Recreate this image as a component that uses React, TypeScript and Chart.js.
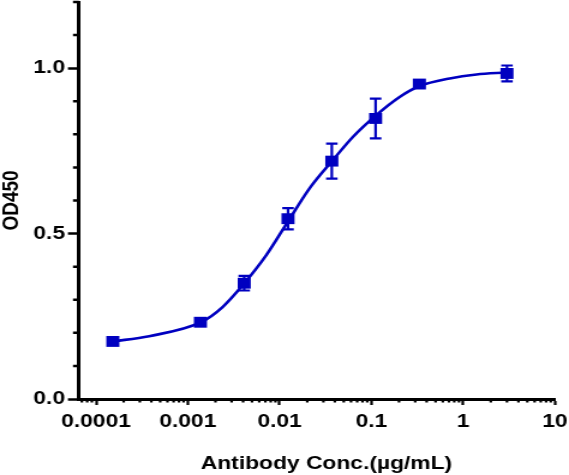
import React, { useEffect, useRef } from "react";
import { Chart, registerables } from "chart.js";

Chart.register(...registerables);

// ---- data: measured points ----
const concentrations = [0.0001524, 0.001372, 0.004115, 0.01235, 0.03704, 0.1111, 0.3333, 3];
const od450 = [0.174, 0.232, 0.35, 0.545, 0.719, 0.848, 0.952, 0.984];
const od450Err = [0, 0, 0.022, 0.032, 0.053, 0.06, 0.008, 0.024];

// ---- data: fitted curve ----
const fitConc = [
  0.0001507, 0.000379, 0.00139, 0.00239, 0.00413, 0.00713, 0.01256, 0.0211, 0.038, 0.0628,
  0.113, 0.203, 0.336, 0.714, 1.397, 2.97,
];
const fitOd = [
  0.174, 0.19, 0.232, 0.278, 0.35, 0.434, 0.54, 0.636, 0.722, 0.792, 0.858, 0.913, 0.946, 0.969,
  0.981, 0.987,
];

const xMajorTicks = [0.0001, 0.001, 0.01, 0.1, 1, 10];
const xTickLabels = ["0.0001", "0.001", "0.01", "0.1", "1", "10"];
const xMinorMultipliers = [2, 3, 4, 5, 6, 7, 8, 9];
const xMinorDecades = [0.00001, 0.0001, 0.001, 0.01, 0.1, 1];

const yMajorTicks = [0, 0.5, 1.0];
const yTickLabels = ["0.0", "0.5", "1.0"];
const yMinorTicks = [0.1, 0.2, 0.3, 0.4, 0.6, 0.7, 0.8, 0.9, 1.1, 1.2];

const xTitle = "   Antibody Conc.(µg/mL)";
const yTitle = "OD450";

// ---- styles ----
const BLUE = "#0000C0";
const FONT = "'Liberation Sans', Arial, Helvetica, sans-serif";
const INNER_W = 474;
const H = 475;
const OUTER_W = 569;

const errorBarPlugin = {
  id: "errorBars",
  afterDatasetsDraw(chart: any) {
    const { ctx } = chart;
    const x = chart.scales.x;
    const y = chart.scales.y;
    const cap = 4.8;
    ctx.save();
    ctx.strokeStyle = BLUE;
    ctx.lineWidth = 2.2;
    concentrations.forEach((c, i) => {
      const e = od450Err[i];
      if (!e) return;
      const px = x.getPixelForValue(c);
      const top = y.getPixelForValue(od450[i] + e);
      const bot = y.getPixelForValue(od450[i] - e);
      ctx.beginPath();
      ctx.moveTo(px, top);
      ctx.lineTo(px, bot);
      ctx.moveTo(px - cap, top);
      ctx.lineTo(px + cap, top);
      ctx.moveTo(px - cap, bot);
      ctx.lineTo(px + cap, bot);
      ctx.stroke();
    });
    ctx.restore();
  },
};

const minorTickPlugin = {
  id: "minorTicks",
  afterDraw(chart: any) {
    const { ctx, chartArea } = chart;
    const x = chart.scales.x;
    const y = chart.scales.y;
    ctx.save();
    ctx.strokeStyle = "#000";
    ctx.lineWidth = 2.2;
    ctx.beginPath();
    xMinorDecades.forEach((d) => {
      xMinorMultipliers.forEach((m) => {
        const v = m * d;
        if (v < x.min || v > x.max) return;
        const px = x.getPixelForValue(v);
        ctx.moveTo(px, chartArea.bottom);
        ctx.lineTo(px, chartArea.bottom + 3.5);
      });
    });
    ctx.stroke();
    ctx.lineWidth = 2.5;
    ctx.beginPath();
    yMinorTicks.forEach((v) => {
      const py = y.getPixelForValue(v);
      ctx.moveTo(chartArea.left, py);
      ctx.lineTo(chartArea.left - 5, py);
    });
    ctx.stroke();
    ctx.restore();
  },
};

export default function App() {
  const ref = useRef<HTMLCanvasElement | null>(null);

  useEffect(() => {
    if (!ref.current) return;
    const chart = new Chart(ref.current, {
      type: "line",
      data: {
        datasets: [
          {
            label: "fit",
            data: fitConc.map((c, i) => ({ x: c, y: fitOd[i] })),
            borderColor: BLUE,
            borderWidth: 2.6,
            pointRadius: 0,
            cubicInterpolationMode: "monotone",
            fill: false,
            order: 2,
          },
          {
            label: "OD450",
            data: concentrations.map((c, i) => ({ x: c, y: od450[i] })),
            showLine: false,
            borderColor: BLUE,
            backgroundColor: BLUE,
            pointBackgroundColor: BLUE,
            pointBorderColor: BLUE,
            pointBorderWidth: 0,
            pointStyle: "rect",
            pointRadius: 7.7,
            clip: false as any,
            order: 1,
          },
        ],
      },
      options: {
        animation: false,
        responsive: false,
        layout: { autoPadding: false, padding: { top: 2, right: 11.7, left: 0, bottom: 0 } },
        plugins: {
          legend: { display: false },
          tooltip: { enabled: false },
        },
        scales: {
          x: {
            type: "logarithmic",
            position: "bottom",
            min: 0.0000652,
            max: 10,
            afterBuildTicks: (s: any) => {
              s.ticks = xMajorTicks.map((v) => ({ value: v }));
            },
            afterFit: (s: any) => {
              s.height = 76;
              s.paddingLeft = 0;
              s.paddingRight = 0;
            },
            ticks: {
              autoSkip: false,
              maxRotation: 0,
              padding: 5,
              color: "#000",
              font: { family: FONT, size: 19, weight: "bold" },
              callback: (_v: any, i: number) => xTickLabels[i],
            },
            grid: {
              display: true,
              drawOnChartArea: false,
              tickLength: 6,
              tickWidth: 2.2,
              tickColor: "#000",
            },
            border: { display: true, color: "#000", width: 3 },
            title: {
              display: true,
              text: xTitle,
              color: "#000",
              font: { family: FONT, size: 19, weight: "bold", lineHeight: 1.2 },
              padding: { top: 0, bottom: 0 },
            },
          },
          y: {
            type: "linear",
            min: 0,
            max: 1.2,
            afterBuildTicks: (s: any) => {
              s.ticks = yMajorTicks.map((v) => ({ value: v }));
            },
            afterFit: (s: any) => {
              s.width = 65.8;
              s.paddingTop = 0;
              s.paddingBottom = 0;
            },
            ticks: {
              padding: 2.4,
              color: "#000",
              font: { family: FONT, size: 19, weight: "bold" },
              callback: (_v: any, i: number) => yTickLabels[i],
            },
            grid: {
              display: true,
              drawOnChartArea: false,
              tickLength: 9.2,
              tickWidth: 2.5,
              tickColor: "#000",
            },
            border: { display: true, color: "#000", width: 3 },
            title: {
              display: true,
              text: yTitle,
              color: "#000",
              font: { family: FONT, size: 19, weight: "bold", lineHeight: 1 },
              padding: { top: 0, bottom: 0 },
            },
          },
        },
      } as any,
      plugins: [errorBarPlugin, minorTickPlugin],
    });
    return () => chart.destroy();
  }, []);

  return (
    <div
      style={{
        position: "absolute",
        left: 0,
        top: 0,
        width: OUTER_W,
        height: H,
        overflow: "hidden",
        background: "#fff",
      }}
    >
      <div
        style={{
          width: INNER_W,
          height: H,
          transform: `scaleX(${OUTER_W / INNER_W})`,
          transformOrigin: "0 0",
        }}
      >
        <canvas ref={ref} width={INNER_W} height={H} />
      </div>
    </div>
  );
}
